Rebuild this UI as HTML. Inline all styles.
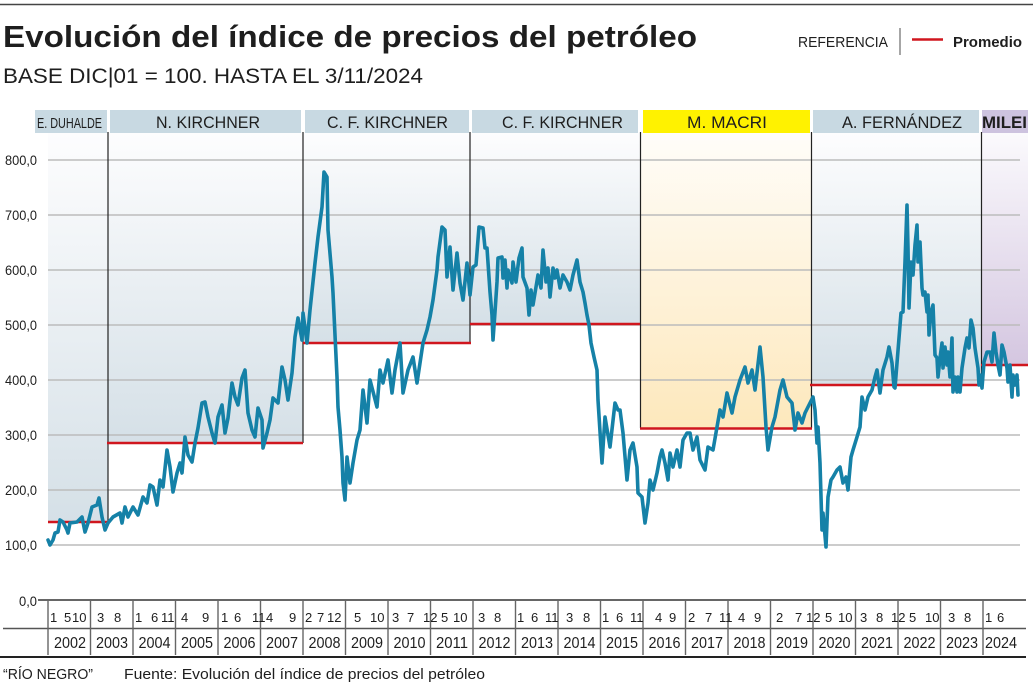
<!DOCTYPE html>
<html>
<head>
<meta charset="utf-8">
<style>
html,body{margin:0;padding:0;background:#fff;}
svg{display:block;}
text{font-family:"Liberation Sans",Arial,sans-serif;fill:#1e1e1e;}
</style>
</head>
<body>
<svg width="1033" height="687" viewBox="0 0 1033 687" xmlns="http://www.w3.org/2000/svg">
<defs>
<linearGradient id="gb" x1="0" y1="0" x2="0" y2="1">
<stop offset="0" stop-color="#fdfdfe"/>
<stop offset="1" stop-color="#d5e0e7"/>
</linearGradient>
<linearGradient id="gy" x1="0" y1="0" x2="0" y2="1">
<stop offset="0" stop-color="#fffdf9"/>
<stop offset="1" stop-color="#fde8bc"/>
</linearGradient>
<linearGradient id="gp" x1="0" y1="0" x2="0" y2="1">
<stop offset="0" stop-color="#fbfafd"/>
<stop offset="1" stop-color="#d4c6e0"/>
</linearGradient>
</defs>
<rect width="1033" height="687" fill="#fff"/>

<!-- top rule -->
<line x1="0" y1="4.5" x2="1033" y2="4.5" stroke="#444" stroke-width="1.5"/>

<!-- title -->
<text x="3" y="47" font-size="31" font-weight="bold" textLength="694" lengthAdjust="spacingAndGlyphs">Evolución del índice de precios del petróleo</text>
<text x="3" y="83" font-size="21" textLength="420" lengthAdjust="spacingAndGlyphs">BASE DIC|01 = 100. HASTA EL 3/11/2024</text>

<!-- legend -->
<text x="798" y="47" font-size="14.5" textLength="90" lengthAdjust="spacingAndGlyphs">REFERENCIA</text>
<line x1="900" y1="28" x2="900" y2="55" stroke="#777" stroke-width="1.3"/>
<line x1="912" y1="39.5" x2="943" y2="39.5" stroke="#d0161e" stroke-width="2.5"/>
<text x="953" y="47" font-size="14.5" font-weight="bold" textLength="69" lengthAdjust="spacingAndGlyphs">Promedio</text>

<!-- period label boxes -->
<rect x="35" y="110" width="72" height="23" fill="#c8d9e2"/>
<rect x="110" y="110" width="191" height="23" fill="#c8d9e2"/>
<rect x="305" y="110" width="164" height="23" fill="#c8d9e2"/>
<rect x="472" y="110" width="166" height="23" fill="#c8d9e2"/>
<rect x="643" y="110" width="167" height="23" fill="#fff200"/>
<rect x="813" y="110" width="166" height="23" fill="#c8d9e2"/>
<rect x="982" y="110" width="46" height="23" fill="#cdc3df"/>

<text x="69.5" y="128" font-size="15" text-anchor="middle" textLength="65" lengthAdjust="spacingAndGlyphs">E. DUHALDE</text>
<text x="208" y="128" font-size="17" text-anchor="middle" textLength="104" lengthAdjust="spacingAndGlyphs">N. KIRCHNER</text>
<text x="387.5" y="128" font-size="17" text-anchor="middle" textLength="121" lengthAdjust="spacingAndGlyphs">C. F. KIRCHNER</text>
<text x="562.5" y="128" font-size="17" text-anchor="middle" textLength="121" lengthAdjust="spacingAndGlyphs">C. F. KIRCHNER</text>
<text x="727" y="128" font-size="17" text-anchor="middle" textLength="80" lengthAdjust="spacingAndGlyphs">M. MACRI</text>
<text x="902" y="128" font-size="17" text-anchor="middle" textLength="120" lengthAdjust="spacingAndGlyphs">A. FERNÁNDEZ</text>
<text x="1004.5" y="128" font-size="17" font-weight="bold" text-anchor="middle" textLength="45" lengthAdjust="spacingAndGlyphs">MILEI</text>

<!-- shaded period areas -->
<rect x="48" y="133" width="60" height="389" fill="url(#gb)"/>
<rect x="108" y="133" width="195" height="310" fill="url(#gb)"/>
<rect x="303" y="133" width="167" height="210" fill="url(#gb)"/>
<rect x="470" y="133" width="170" height="191" fill="url(#gb)"/>
<rect x="640" y="133" width="171" height="296" fill="url(#gy)"/>
<rect x="811" y="133" width="170" height="252" fill="url(#gb)"/>
<rect x="981" y="133" width="47" height="232" fill="url(#gp)"/>

<!-- grid lines -->
<g stroke="#bcbcbc" stroke-width="1.5">
<line x1="48" y1="160" x2="1020" y2="160"/>
<line x1="48" y1="215" x2="1020" y2="215"/>
<line x1="48" y1="270" x2="1020" y2="270"/>
<line x1="48" y1="325" x2="1020" y2="325"/>
<line x1="48" y1="380" x2="1020" y2="380"/>
<line x1="48" y1="435" x2="1020" y2="435"/>
<line x1="48" y1="490" x2="1020" y2="490"/>
<line x1="48" y1="545" x2="1020" y2="545"/>
</g>

<!-- period separators -->
<g stroke="#222" stroke-width="1.2">
<line x1="108" y1="132" x2="108" y2="522"/>
<line x1="303" y1="132" x2="303" y2="443"/>
<line x1="470" y1="132" x2="470" y2="343"/>
<line x1="640.5" y1="132" x2="640.5" y2="428"/>
<line x1="811.5" y1="132" x2="811.5" y2="428"/>
<line x1="981.5" y1="132" x2="981.5" y2="385"/>
</g>

<!-- averages -->
<g stroke="#d0161e" stroke-width="2.6">
<line x1="48" y1="522" x2="108" y2="522"/>
<line x1="107" y1="443" x2="303" y2="443"/>
<line x1="303" y1="343" x2="471" y2="343"/>
<line x1="470" y1="324" x2="640" y2="324"/>
<line x1="640" y1="428.5" x2="812" y2="428.5"/>
<line x1="810" y1="385" x2="981" y2="385"/>
<line x1="981" y1="365" x2="1028" y2="365"/>
</g>

<!-- y labels -->
<g font-size="14" text-anchor="end">
<text x="37" y="165" textLength="32" lengthAdjust="spacingAndGlyphs">800,0</text>
<text x="37" y="220" textLength="32" lengthAdjust="spacingAndGlyphs">700,0</text>
<text x="37" y="275" textLength="32" lengthAdjust="spacingAndGlyphs">600,0</text>
<text x="37" y="330" textLength="32" lengthAdjust="spacingAndGlyphs">500,0</text>
<text x="37" y="385" textLength="32" lengthAdjust="spacingAndGlyphs">400,0</text>
<text x="37" y="440" textLength="32" lengthAdjust="spacingAndGlyphs">300,0</text>
<text x="37" y="495" textLength="32" lengthAdjust="spacingAndGlyphs">200,0</text>
<text x="37" y="550" textLength="32" lengthAdjust="spacingAndGlyphs">100,0</text>
<text x="37" y="606" textLength="18" lengthAdjust="spacingAndGlyphs">0,0</text>
</g>

<!-- data series -->
<polyline fill="none" stroke="#1581a7" stroke-width="3.6" stroke-linejoin="round" stroke-linecap="round" points="48,540 50,545 53,540 55,533 58,532 60,520 63,522 67,530 68,533 70,523 77,522 82,517 85,532 88,523 92,507 97,505 99,498 102,517 105,530 108,523 113,517 120,513 122,523 125,507 128,517 133,507 138,515 143,497 147,503 150,485 153,487 157,505 160,480 163,487 167,450 170,467 173,492 177,473 180,463 182,473 185,437 188,455 192,462 195,443 198,428 202,403 205,402 208,417 212,433 215,443 218,417 222,405 225,433 228,418 232,383 235,397 238,405 242,378 245,370 248,413 252,430 255,437 258,408 262,420 263,448 267,433 270,420 273,398 278,403 282,367 285,380 288,400 292,373 295,337 298,318 302,340 303,313 307,343 310,310 315,263 318,237 322,207 324,172 327,177 328,230 332,277 333,293 337,377 338,407 340,430 342,457 343,483 345,500 347,457 350,483 353,463 357,440 360,430 363,390 367,423 370,380 377,407 380,370 383,383 388,360 392,393 395,370 400,343 403,393 408,370 413,357 417,383 420,363 423,343 427,330 430,317 433,300 437,270 438,257 442,227 445,230 447,277 450,247 453,290 457,253 460,283 463,300 467,263 470,295 473,267 476,265 479,227 483,228 485,248 487,248 490,292 492,315 493,340 495,312 497,282 498,258 502,257 503,278 505,260 507,288 508,270 512,283 513,262 516,282 519,258 522,248 523,277 527,288 529,315 531,290 533,305 536,287 538,275 541,288 543,250 546,282 548,268 550,297 553,268 555,278 557,270 560,288 563,275 567,282 570,290 573,275 577,260 580,282 583,292 585,303 587,315 589,325 591,343 594,357 597,370 598,400 602,463 605,417 610,447 615,403 618,410 620,410 623,433 627,480 630,450 633,443 637,467 638,493 642,497 645,523 648,503 650,480 653,490 657,473 660,457 662,450 665,463 668,480 670,453 673,467 677,450 680,467 683,440 687,433 690,433 693,450 697,437 700,460 705,470 708,447 713,450 717,427 720,410 723,417 727,393 732,413 735,397 740,380 745,367 748,383 752,370 755,390 760,347 763,377 766,427 768,450 772,427 775,417 780,390 783,380 787,397 792,403 795,430 798,413 802,423 805,413 810,403 813,397 815,410 817,443 818,427 820,463 822,530 823,513 826,547 828,497 831,480 833,477 837,470 840,467 843,483 846,477 848,490 851,457 853,450 857,437 860,427 862,397 865,410 868,397 872,390 875,377 877,370 880,393 883,370 887,357 889,347 892,363 894,387 895,388 899,338 901,313 903,312 905,262 907,205 908,248 909,308 911,262 913,275 915,245 917,225 918,262 920,242 922,288 923,295 925,292 927,312 928,295 929,335 931,312 933,305 935,355 937,358 938,377 940,358 942,343 943,368 945,347 947,365 948,352 950,377 952,338 953,392 955,377 957,392 958,377 960,392 962,368 965,348 967,338 969,348 971,320 973,328 975,348 978,368 979,385 980,375 982,388 984,362 987,352 990,352 992,362 994,333 996,352 998,365 1000,375 1002,345 1004,352 1007,368 1008,382 1010,365 1012,397 1013,375 1015,385 1017,375 1018,395"/>

<!-- x axis -->
<line x1="38" y1="600" x2="1026" y2="600" stroke="#333" stroke-width="1.6"/>
<line x1="3" y1="628.5" x2="1026" y2="628.5" stroke="#555" stroke-width="1.5"/>
<line x1="0" y1="657" x2="1026" y2="657" stroke="#222" stroke-width="2"/>
<g stroke="#666" stroke-width="1.4">
<line x1="48" y1="601" x2="48" y2="655"/>
<line x1="90.5" y1="601" x2="90.5" y2="655"/>
<line x1="133" y1="601" x2="133" y2="655"/>
<line x1="175.5" y1="601" x2="175.5" y2="655"/>
<line x1="218" y1="601" x2="218" y2="655"/>
<line x1="260.5" y1="601" x2="260.5" y2="655"/>
<line x1="303" y1="601" x2="303" y2="655"/>
<line x1="345.5" y1="601" x2="345.5" y2="655"/>
<line x1="388" y1="601" x2="388" y2="655"/>
<line x1="430.5" y1="601" x2="430.5" y2="655"/>
<line x1="473" y1="601" x2="473" y2="655"/>
<line x1="515.5" y1="601" x2="515.5" y2="655"/>
<line x1="558" y1="601" x2="558" y2="655"/>
<line x1="600.5" y1="601" x2="600.5" y2="655"/>
<line x1="643" y1="601" x2="643" y2="655"/>
<line x1="685.5" y1="601" x2="685.5" y2="655"/>
<line x1="728" y1="601" x2="728" y2="655"/>
<line x1="770.5" y1="601" x2="770.5" y2="655"/>
<line x1="813" y1="601" x2="813" y2="655"/>
<line x1="855.5" y1="601" x2="855.5" y2="655"/>
<line x1="898" y1="601" x2="898" y2="655"/>
<line x1="940.5" y1="601" x2="940.5" y2="655"/>
<line x1="983" y1="601" x2="983" y2="655"/>
</g>

<!-- month labels -->
<g font-size="13">
<text x="50" y="622">1</text><text x="64" y="622">5</text><text x="72" y="622">10</text>
<text x="97" y="622">3</text><text x="114" y="622">8</text>
<text x="135" y="622">1</text><text x="151" y="622">6</text><text x="161" y="622">11</text>
<text x="181" y="622">4</text><text x="202" y="622">9</text>
<text x="221" y="622">1</text><text x="234" y="622">6</text><text x="252" y="622">11</text>
<text x="266" y="622">4</text><text x="289" y="622">9</text>
<text x="305" y="622">2</text><text x="317" y="622">7</text><text x="327" y="622">12</text>
<text x="354" y="622">5</text><text x="370" y="622">10</text>
<text x="392" y="622">3</text><text x="407" y="622">7</text><text x="423" y="622">12</text>
<text x="441" y="622">5</text><text x="453" y="622">10</text>
<text x="478" y="622">3</text><text x="494" y="622">8</text>
<text x="517" y="622">1</text><text x="531" y="622">6</text><text x="545" y="622">11</text>
<text x="566" y="622">3</text><text x="583" y="622">8</text>
<text x="602" y="622">1</text><text x="616" y="622">6</text><text x="630" y="622">11</text>
<text x="655" y="622">4</text><text x="669" y="622">9</text>
<text x="688" y="622">2</text><text x="705" y="622">7</text><text x="719" y="622">11</text>
<text x="738" y="622">4</text><text x="754" y="622">9</text>
<text x="776" y="622">2</text><text x="795" y="622">7</text><text x="806" y="622">12</text>
<text x="825" y="622">5</text><text x="838" y="622">10</text>
<text x="860" y="622">3</text><text x="876" y="622">8</text><text x="891" y="622">12</text>
<text x="909" y="622">5</text><text x="925" y="622">10</text>
<text x="948" y="622">3</text><text x="964" y="622">8</text>
<text x="985" y="622">1</text><text x="997" y="622">6</text>
</g>

<!-- year labels -->
<g font-size="16" text-anchor="middle">
<text x="70" y="648" textLength="32" lengthAdjust="spacingAndGlyphs">2002</text>
<text x="112" y="648" textLength="32" lengthAdjust="spacingAndGlyphs">2003</text>
<text x="154.5" y="648" textLength="32" lengthAdjust="spacingAndGlyphs">2004</text>
<text x="197" y="648" textLength="32" lengthAdjust="spacingAndGlyphs">2005</text>
<text x="239.5" y="648" textLength="32" lengthAdjust="spacingAndGlyphs">2006</text>
<text x="282" y="648" textLength="32" lengthAdjust="spacingAndGlyphs">2007</text>
<text x="324.5" y="648" textLength="32" lengthAdjust="spacingAndGlyphs">2008</text>
<text x="367" y="648" textLength="32" lengthAdjust="spacingAndGlyphs">2009</text>
<text x="409.5" y="648" textLength="32" lengthAdjust="spacingAndGlyphs">2010</text>
<text x="452" y="648" textLength="32" lengthAdjust="spacingAndGlyphs">2011</text>
<text x="494.5" y="648" textLength="32" lengthAdjust="spacingAndGlyphs">2012</text>
<text x="537" y="648" textLength="32" lengthAdjust="spacingAndGlyphs">2013</text>
<text x="579.5" y="648" textLength="32" lengthAdjust="spacingAndGlyphs">2014</text>
<text x="622" y="648" textLength="32" lengthAdjust="spacingAndGlyphs">2015</text>
<text x="664.5" y="648" textLength="32" lengthAdjust="spacingAndGlyphs">2016</text>
<text x="707" y="648" textLength="32" lengthAdjust="spacingAndGlyphs">2017</text>
<text x="749.5" y="648" textLength="32" lengthAdjust="spacingAndGlyphs">2018</text>
<text x="792" y="648" textLength="32" lengthAdjust="spacingAndGlyphs">2019</text>
<text x="834.5" y="648" textLength="32" lengthAdjust="spacingAndGlyphs">2020</text>
<text x="877" y="648" textLength="32" lengthAdjust="spacingAndGlyphs">2021</text>
<text x="919.5" y="648" textLength="32" lengthAdjust="spacingAndGlyphs">2022</text>
<text x="962" y="648" textLength="32" lengthAdjust="spacingAndGlyphs">2023</text>
<text x="1001" y="648" textLength="32" lengthAdjust="spacingAndGlyphs">2024</text>
</g>

<!-- footer -->
<text x="3" y="679" font-size="15" textLength="90" lengthAdjust="spacingAndGlyphs">“RÍO NEGRO”</text>
<text x="124" y="679" font-size="15" textLength="361" lengthAdjust="spacingAndGlyphs">Fuente: Evolución del índice de precios del petróleo</text>
</svg>
</body>
</html>
